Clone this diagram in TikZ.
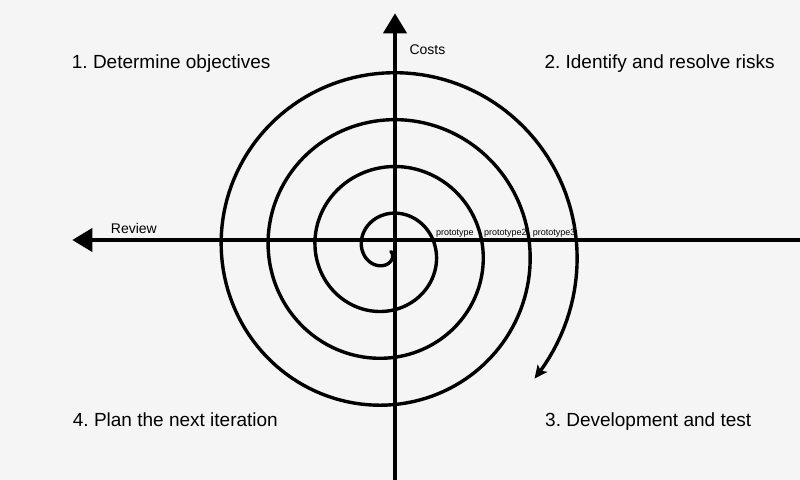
\documentclass[tikz,border=0pt]{standalone}
\usepackage{fontspec}
\setmainfont{Liberation Sans}
\usetikzlibrary{arrows.meta}
\definecolor{bg}{RGB}{245,245,245}
\frenchspacing
\begin{document}
\begin{tikzpicture}[x=1bp,y=-1bp,
  axis/.style={line width=4bp, -{Triangle[length=20bp,width=23bp]}},
  spiralline/.style={line width=3.4bp, line cap=round, -{Stealth[length=13bp,width=12bp,inset=3bp]}},
  quad/.style={font=\fontsize{19bp}{22bp}\selectfont, anchor=base west, inner sep=0pt},
  axlabel/.style={font=\fontsize{14bp}{16bp}\selectfont, anchor=base west, inner sep=0pt},
  proto/.style={font=\fontsize{9bp}{10bp}\selectfont, anchor=base west, inner sep=0pt}]
\fill[bg] (0,0) rectangle (800,480);
\useasboundingbox (0,0) rectangle (800,480);
\coordinate (vbot) at (395,481);
\coordinate (vtop) at (395,13.3);
\coordinate (hright) at (801,240);
\coordinate (hleft) at (72.3,240);
\draw[axis] (vbot) -- (vtop);
\draw[axis] (hright) -- (hleft);
\draw[spiralline] plot[domain=-345:1121, samples=600] ({387.4+(48.6+0.13056*\x)*cos(\x)}, {250.7+(48.6+0.13056*\x)*sin(\x)});
\node[quad] (q1) at (71.7,68.3) {1. Determine objectives};
\node[quad] (q2) at (544.3,68.3) {2. Identify and resolve risks};
\node[quad] (q3) at (545,426.3) {3. Development and test};
\node[quad] (q4) at (72.7,426.7) {4. Plan the next iteration};
\node[axlabel] (costs) at (409.3,55) {Costs};
\node[axlabel] (review) at (110.7,234) {Review};
\node[proto] (p1) at (436,235.5) {prototype};
\node[proto] (p2) at (484,235.5) {prototype2};
\node[proto] (p3) at (532.7,235.5) {prototype3};
\end{tikzpicture}
\end{document}
